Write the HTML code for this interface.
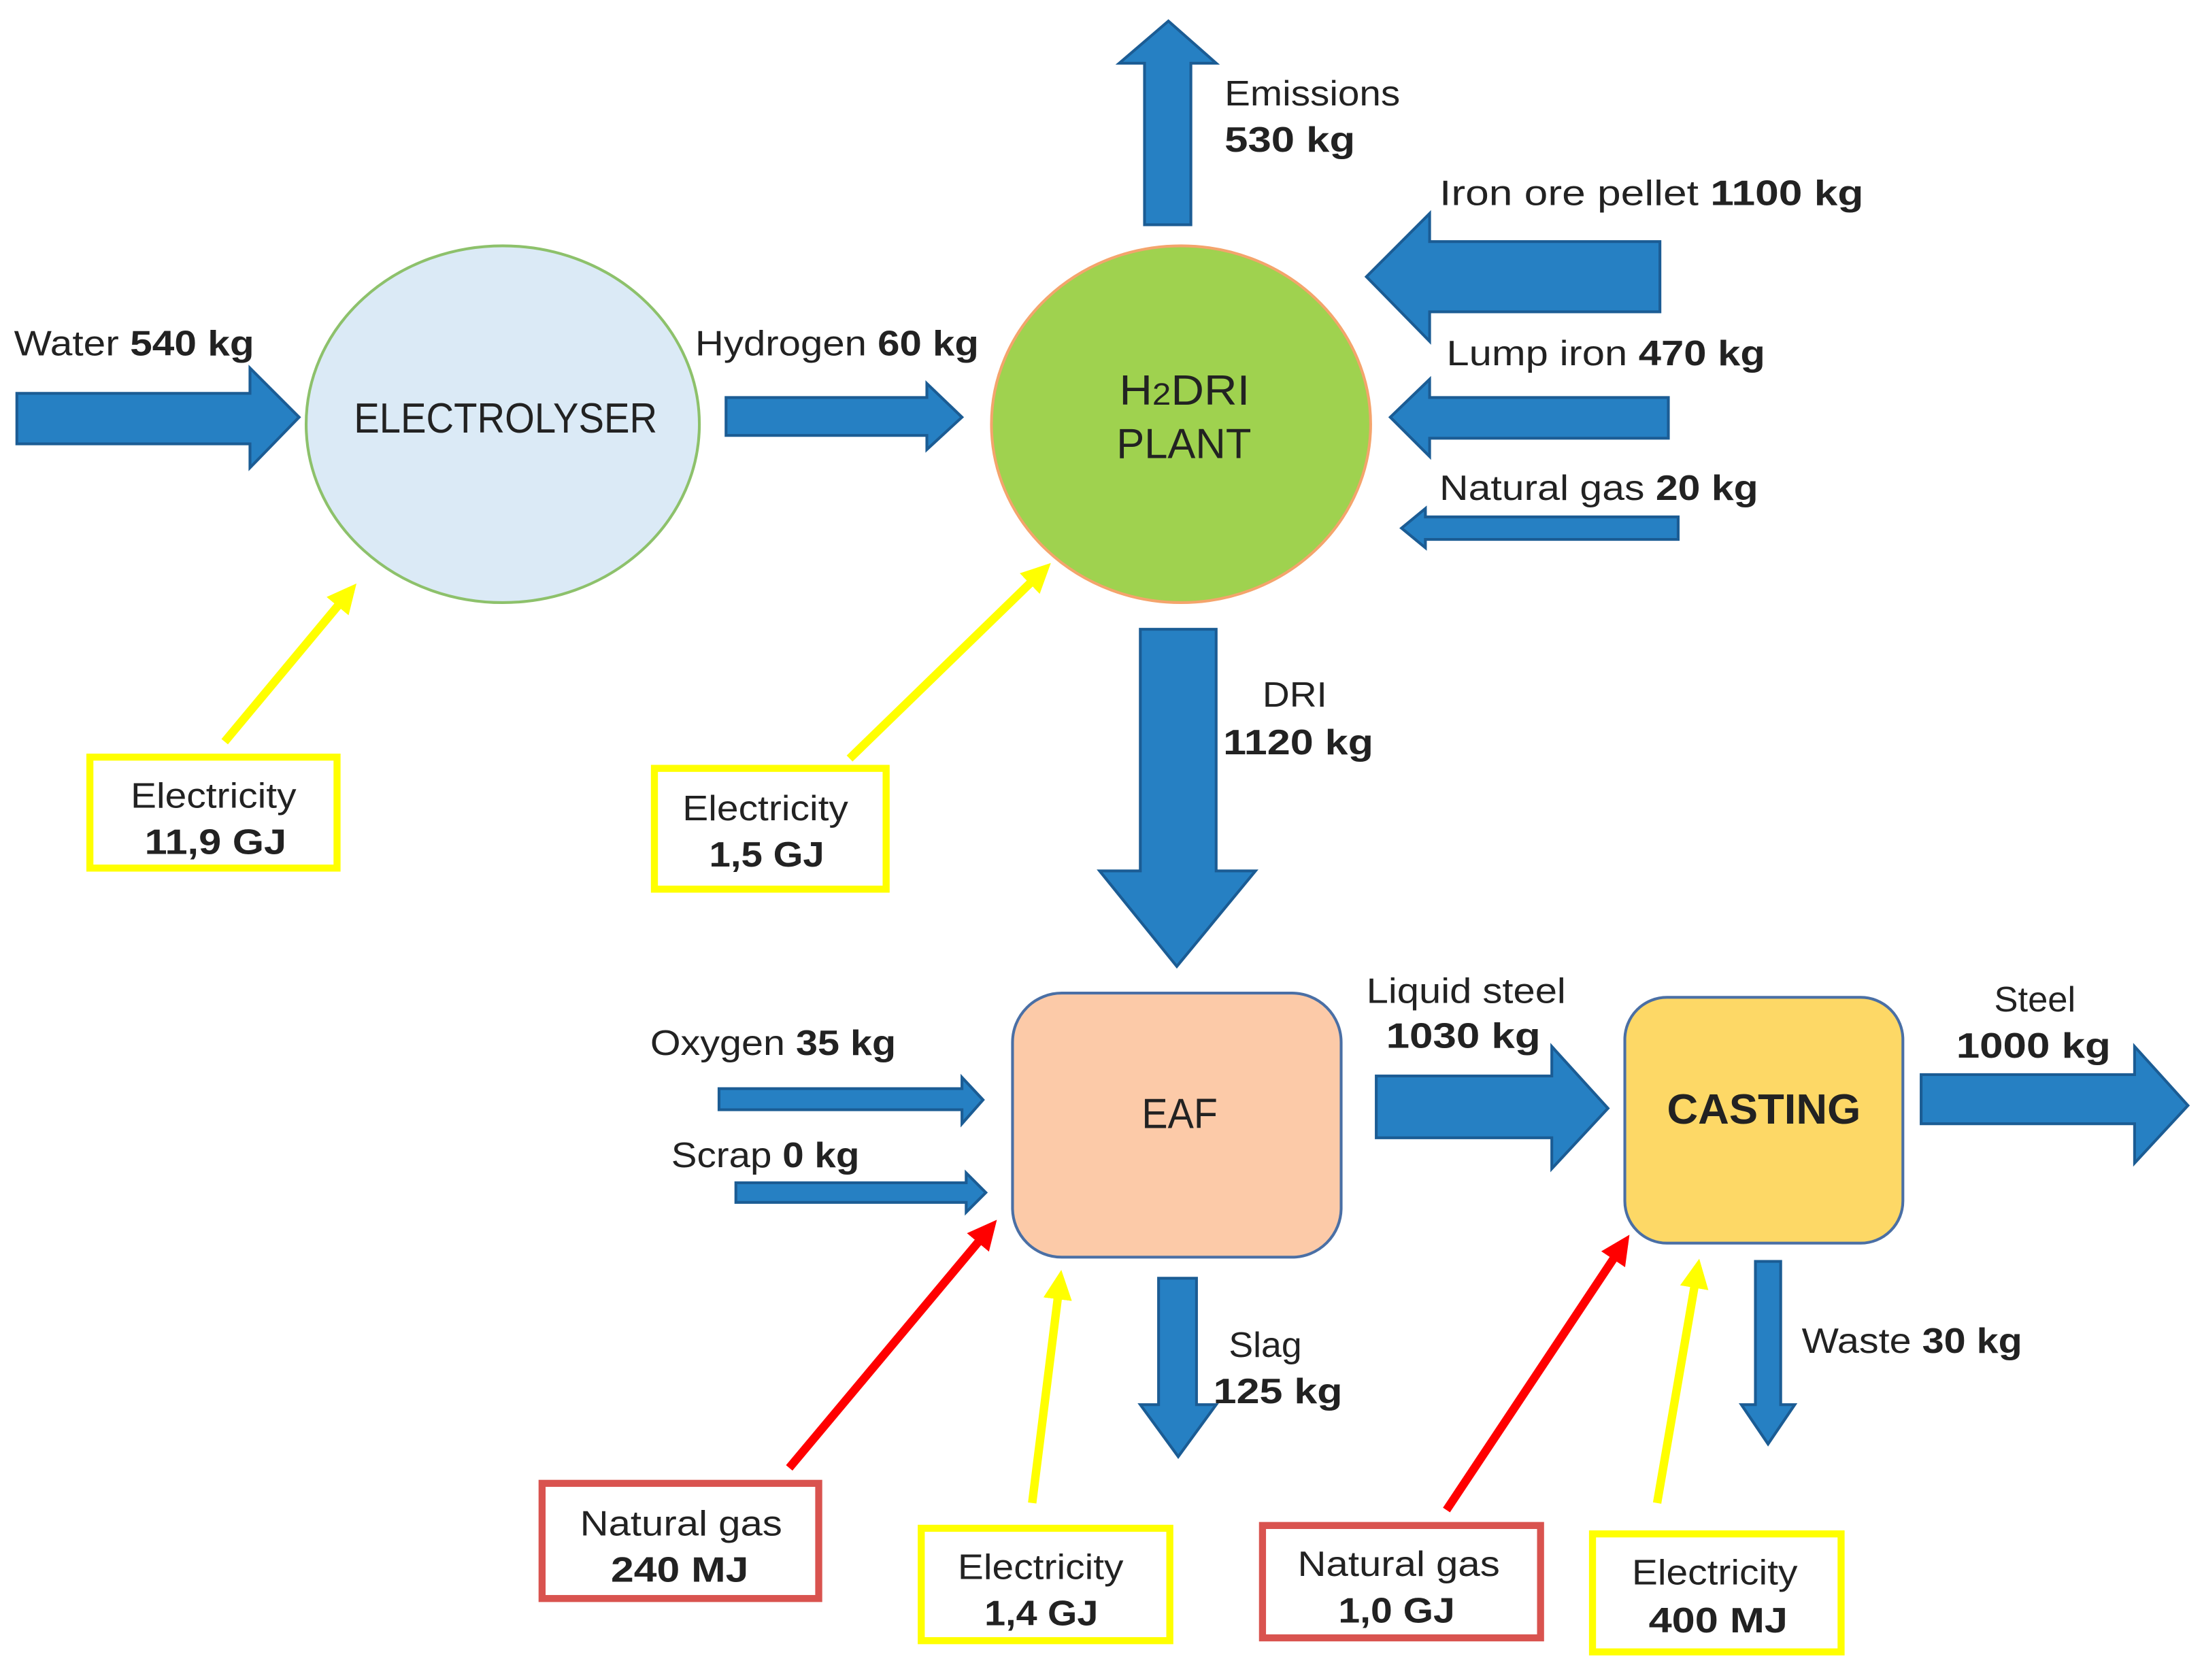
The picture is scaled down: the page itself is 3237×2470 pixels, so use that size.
<!DOCTYPE html>
<html><head><meta charset="utf-8"><style>
html,body{margin:0;padding:0;background:#fff;}
svg{display:block;}
text{font-family:"Liberation Sans",sans-serif;fill:#222;font-size:25px;}
.b{font-weight:bold;}
.ar{fill:#2680c3;stroke:#1b5c94;stroke-width:2;}
</style></head><body>
<svg width="3237" height="2470" viewBox="0 0 1568 1196" preserveAspectRatio="none" xmlns="http://www.w3.org/2000/svg">
<defs>
<marker id="my" markerWidth="4" markerHeight="4" refX="2.5" refY="2" orient="auto" markerUnits="strokeWidth"><path d="M0,0.3 L3.5,2 L0,3.7 z" fill="#ffff00"/></marker>
<marker id="mr" markerWidth="4" markerHeight="4" refX="2.5" refY="2" orient="auto" markerUnits="strokeWidth"><path d="M0,0.3 L3.5,2 L0,3.7 z" fill="#ff0000"/></marker>
</defs>
<ellipse cx="358" cy="302" rx="140" ry="127" fill="#dbeaf6" stroke="#8dc16b" stroke-width="2"/>
<ellipse cx="841" cy="302" rx="135" ry="127" fill="#9fd24f" stroke="#f4a46c" stroke-width="2"/>
<rect x="721" y="707" width="234" height="188" rx="35" fill="#fccaa8" stroke="#4a6fa5" stroke-width="2"/>
<rect x="1157" y="710" width="198" height="175" rx="30" fill="#fdd866" stroke="#4a6fa5" stroke-width="2"/>
<polygon class="ar" points="815,160 848,160 848,45 866,45 832,15 797,45 815,45"/>
<polygon class="ar" points="1182,172 1182,222 1018,222 1018,243 973,197 1018,152 1018,172"/>
<polygon class="ar" points="1188,283 1188,312 1018,312 1018,325 990,297 1018,270 1018,283"/>
<polygon class="ar" points="1195,368 1195,384 1015,384 1015,390 998,376 1015,362 1015,368"/>
<polygon class="ar" points="12,280 178,280 178,262 213,297 178,333 178,316 12,316"/>
<polygon class="ar" points="517,283 660,283 660,273 685,297 660,320 660,310 517,310"/>
<polygon class="ar" points="812,448 866,448 866,620 894,620 838,688 783,620 812,620"/>
<polygon class="ar" points="512,775 685,775 685,767 700,783 685,800 685,790 512,790"/>
<polygon class="ar" points="524,842 688,842 688,835 702,849 688,863 688,856 524,856"/>
<polygon class="ar" points="980,766 1105,766 1105,745 1145,789 1105,832 1105,810 980,810"/>
<polygon class="ar" points="1368,765 1520,765 1520,745 1558,787 1520,828 1520,800 1368,800"/>
<polygon class="ar" points="825,910 852,910 852,1000 866,1000 839,1037 812,1000 825,1000"/>
<polygon class="ar" points="1250,898 1268,898 1268,1000 1278,1000 1259,1028 1240,1000 1250,1000"/>
<g stroke-width="6" fill="none">
<line x1="160" y1="528" x2="250" y2="420" stroke="#ffff00" marker-end="url(#my)"/>
<line x1="605" y1="540" x2="744" y2="405" stroke="#ffff00" marker-end="url(#my)"/>
<line x1="735" y1="1070" x2="755" y2="910" stroke="#ffff00" marker-end="url(#my)"/>
<line x1="1180" y1="1070" x2="1209" y2="902" stroke="#ffff00" marker-end="url(#my)"/>
<line x1="562" y1="1045" x2="706" y2="873" stroke="#ff0000" marker-end="url(#mr)"/>
<line x1="1030" y1="1075" x2="1157" y2="884" stroke="#ff0000" marker-end="url(#mr)"/>
</g>
<g fill="#fff" stroke-width="5">
<rect x="64" y="539" width="176" height="79" stroke="#ffff00"/>
<rect x="466" y="547" width="165" height="86" stroke="#ffff00"/>
<rect x="386" y="1056" width="197" height="82" stroke="#d9534f"/>
<rect x="656" y="1088" width="177" height="80" stroke="#ffff00"/>
<rect x="899" y="1086" width="198" height="80" stroke="#d9534f"/>
<rect x="1134" y="1092" width="177" height="84" stroke="#ffff00"/>
</g>
<text x="872" y="75" textLength="125" lengthAdjust="spacingAndGlyphs">Emissions</text>
<text x="872" y="108" class="b" textLength="93" lengthAdjust="spacingAndGlyphs">530 kg</text>
<text x="1025" y="146" textLength="302" lengthAdjust="spacingAndGlyphs">Iron ore pellet  <tspan class="b">1100 kg</tspan></text>
<text x="1030" y="260" textLength="227" lengthAdjust="spacingAndGlyphs">Lump iron <tspan class="b">470 kg</tspan></text>
<text x="1025" y="356" textLength="227" lengthAdjust="spacingAndGlyphs">Natural gas <tspan class="b">20 kg</tspan></text>
<text x="10" y="253" textLength="171" lengthAdjust="spacingAndGlyphs">Water <tspan class="b">540 kg</tspan></text>
<text x="495" y="253" textLength="202" lengthAdjust="spacingAndGlyphs">Hydrogen <tspan class="b">60 kg</tspan></text>
<text x="252" y="308" style="font-size:30px" textLength="216" lengthAdjust="spacingAndGlyphs">ELECTROLYSER</text>
<text x="797" y="288" style="font-size:30px" textLength="93" lengthAdjust="spacingAndGlyphs">H<tspan style="font-size:22px">2</tspan>DRI</text>
<text x="795" y="326" style="font-size:30px" textLength="96" lengthAdjust="spacingAndGlyphs">PLANT</text>
<text x="899" y="503" textLength="46" lengthAdjust="spacingAndGlyphs">DRI</text>
<text x="871" y="537" class="b" textLength="107" lengthAdjust="spacingAndGlyphs">1120 kg</text>
<text x="93" y="575" textLength="118" lengthAdjust="spacingAndGlyphs">Electricity</text>
<text x="103" y="608" class="b" textLength="101" lengthAdjust="spacingAndGlyphs">11,9 GJ</text>
<text x="486" y="584" textLength="118" lengthAdjust="spacingAndGlyphs">Electricity</text>
<text x="505" y="617" class="b" textLength="82" lengthAdjust="spacingAndGlyphs">1,5 GJ</text>
<text x="973" y="714" textLength="142" lengthAdjust="spacingAndGlyphs">Liquid  steel</text>
<text x="987" y="746" class="b" textLength="110" lengthAdjust="spacingAndGlyphs">1030 kg</text>
<text x="1420" y="720" textLength="58" lengthAdjust="spacingAndGlyphs">Steel</text>
<text x="1393" y="753" class="b" textLength="110" lengthAdjust="spacingAndGlyphs">1000 kg</text>
<text x="463" y="751" textLength="175" lengthAdjust="spacingAndGlyphs">Oxygen  <tspan class="b">35 kg</tspan></text>
<text x="478" y="831" textLength="134" lengthAdjust="spacingAndGlyphs">Scrap <tspan class="b">0 kg</tspan></text>
<text x="813" y="803" style="font-size:30px" textLength="54" lengthAdjust="spacingAndGlyphs">EAF</text>
<text x="1187" y="800" style="font-size:30px" class="b" textLength="138" lengthAdjust="spacingAndGlyphs">CASTING</text>
<text x="875" y="966" textLength="52" lengthAdjust="spacingAndGlyphs">Slag</text>
<text x="864" y="999" class="b" textLength="92" lengthAdjust="spacingAndGlyphs">125 kg</text>
<text x="1283" y="963" textLength="157" lengthAdjust="spacingAndGlyphs">Waste <tspan class="b">30 kg</tspan></text>
<text x="413" y="1093" textLength="144" lengthAdjust="spacingAndGlyphs">Natural gas</text>
<text x="435" y="1126" class="b" textLength="98" lengthAdjust="spacingAndGlyphs">240 MJ</text>
<text x="682" y="1124" textLength="118" lengthAdjust="spacingAndGlyphs">Electricity</text>
<text x="701" y="1157" class="b" textLength="81" lengthAdjust="spacingAndGlyphs">1,4 GJ</text>
<text x="924" y="1122" textLength="144" lengthAdjust="spacingAndGlyphs">Natural gas</text>
<text x="953" y="1155" class="b" textLength="83" lengthAdjust="spacingAndGlyphs">1,0 GJ</text>
<text x="1162" y="1128" textLength="118" lengthAdjust="spacingAndGlyphs">Electricity</text>
<text x="1174" y="1162" class="b" textLength="99" lengthAdjust="spacingAndGlyphs">400 MJ</text>
</svg>
</body></html>
